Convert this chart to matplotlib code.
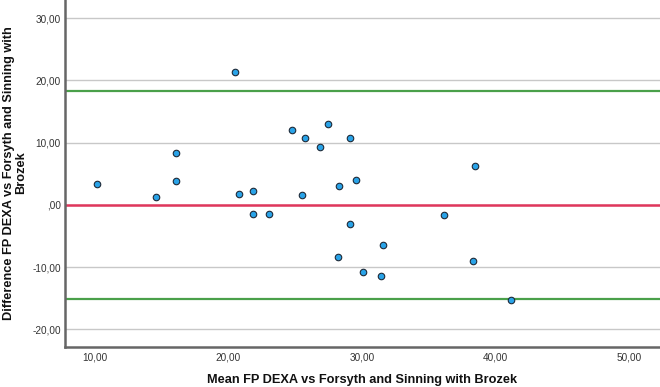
import matplotlib
matplotlib.use("Agg")
import matplotlib.pyplot as plt
from matplotlib.ticker import FuncFormatter

# Data
mean_vals = [10.16, 14.63, 16.13, 16.10, 20.52, 20.77, 21.85, 21.85, 23.05,
             24.79, 25.52, 25.74, 26.84, 27.44, 28.22, 28.32, 29.12, 29.14,
             29.54, 30.11, 31.41, 31.59, 36.16, 38.33, 38.48, 41.18]
diff_vals = [3.33, 1.19, 8.36, 3.81, 21.38, 1.72, 2.15, -1.50, -1.45,
             12.06, 1.61, 10.77, 9.32, 12.97, -8.41, 3.00, -3.05, 10.72,
             3.97, -10.77, -11.41, -6.53, -1.70, -9.05, 6.27, -15.32]
upper_loa = 18.36
lower_loa = -15.08
zero_line = 0.0
x_ticks = [10, 20, 30, 40, 50]
y_ticks = [-20, -10, 0, 10, 20, 30]
x_label = 'Mean FP DEXA vs Forsyth and Sinning with Brozek'
y_label = 'Difference FP DEXA vs Forsyth and Sinning with\nBrozek'

plt.rcParams['font.family'] = ['Liberation Sans', 'DejaVu Sans']

W, H = 660, 387
fig = plt.figure(figsize=(W/100, H/100), dpi=100)
ax = fig.add_axes([65/W, 1 - 346.7/H, 1 - 65/W, 346.7/H])

ax.set_xlim(7.79, 52.3)
ax.set_ylim(-22.8, 32.9)

ax.set_yticks(y_ticks)
ax.set_xticks(x_ticks)
ax.yaxis.grid(True, color='#c8c8c8', linewidth=1.0)
ax.set_axisbelow(True)

def fmt(v, pos):
    s = f"{v:.2f}".replace('.', ',')
    if s.startswith('0,'):
        s = s[1:]
    return s
ax.xaxis.set_major_formatter(FuncFormatter(fmt))
ax.yaxis.set_major_formatter(FuncFormatter(fmt))

ax.axhline(upper_loa, color='#4aa04a', linewidth=1.6, zorder=2)
ax.axhline(lower_loa, color='#4aa04a', linewidth=1.6, zorder=2)
ax.axhline(zero_line, color='#e0365c', linewidth=1.8, zorder=2)

ax.scatter(mean_vals, diff_vals, s=22, facecolor='#29a3e8', edgecolor='#1e2a38',
           linewidth=0.8, zorder=3)

for side in ['top', 'right']:
    ax.spines[side].set_visible(False)
for side in ['left', 'bottom']:
    ax.spines[side].set_color('#666666')
    ax.spines[side].set_linewidth(1.8)

ax.tick_params(axis='both', length=0, labelsize=7.2, labelcolor='#333333')
ax.tick_params(axis='x', pad=4)
ax.tick_params(axis='y', pad=3)

fig.text(362/W, 1 - 380/H, x_label, fontsize=9.2, fontweight='bold',
         color='#111111', ha='center', va='center')
fig.text(15/W, 1 - 173/H, y_label, fontsize=9.2, fontweight='bold',
         color='#111111', ha='center', va='center', rotation=90,
         multialignment='center', linespacing=0.95)

fig.savefig('out.png', dpi=100)
